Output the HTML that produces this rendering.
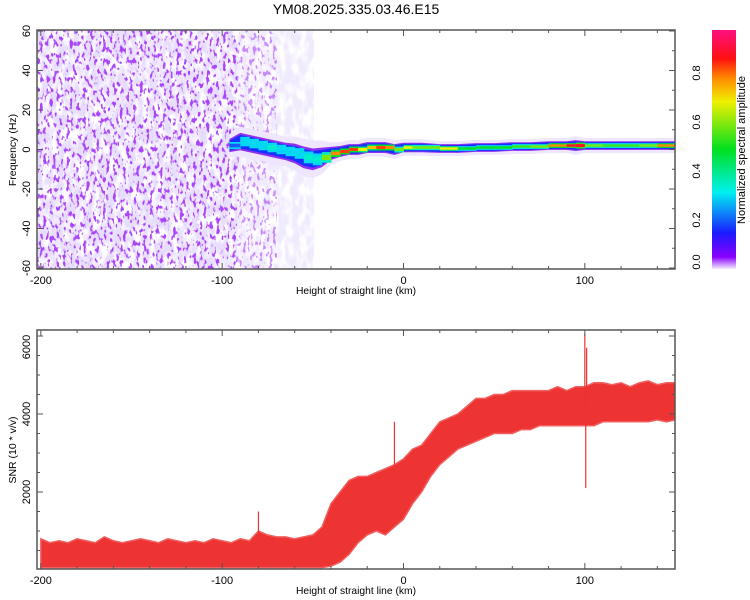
<!DOCTYPE html>
<html><head><meta charset="utf-8">
<style>
html,body{margin:0;padding:0;background:#fff;}
svg{display:block;font-family:"Liberation Sans",sans-serif;}
</style></head>
<body>
<svg id="chart" width="750" height="600" viewBox="0 0 750 600">
<defs>
  <clipPath id="topClip"><rect x="37" y="30" width="638" height="239"/></clipPath>
  <clipPath id="botClip"><rect x="37" y="330" width="638" height="239"/></clipPath>
  <filter id="noiseDark" x="0" y="0" width="1" height="1">
    <feTurbulence type="fractalNoise" baseFrequency="0.3 0.17" numOctaves="2" seed="3"/>
    <feColorMatrix type="matrix" values="0 0 0 0 0.4  0 0 0 0 0.06  0 0 0 0 0.93  9 0 0 0 -5.0"/>
  </filter>
  <filter id="noiseLight" x="0" y="0" width="1" height="1">
    <feTurbulence type="fractalNoise" baseFrequency="0.14 0.07" numOctaves="2" seed="9"/>
    <feColorMatrix type="matrix" values="0 0 0 0 0.8  0 0 0 0 0.72  0 0 0 0 0.98  0 3.5 0 0 -1.1"/>
  </filter>
  <linearGradient id="cbGrad" x1="0" y1="1" x2="0" y2="0">
    <stop offset="0" stop-color="#f4eeff"/>
    <stop offset="0.05" stop-color="#8a00ff"/>
    <stop offset="0.15" stop-color="#1a1aff"/>
    <stop offset="0.32" stop-color="#00f0f0"/>
    <stop offset="0.5" stop-color="#00e020"/>
    <stop offset="0.7" stop-color="#f0f000"/>
    <stop offset="0.8" stop-color="#ff8800"/>
    <stop offset="0.88" stop-color="#ff1010"/>
    <stop offset="1" stop-color="#ff1080"/>
  </linearGradient>
</defs>
<text x="356" y="14" font-size="14" text-anchor="middle">YM08.2025.335.03.46.E15</text>

<g id="topPlot">
  <g clip-path="url(#topClip)" id="specMarks">
    <rect x="37" y="30" width="200" height="239" filter="url(#noiseLight)"/>
    <rect x="37" y="30" width="200" height="239" filter="url(#noiseDark)"/>
    <rect x="237" y="30" width="77" height="239" filter="url(#noiseLight)" opacity="0.6"/>
    <rect x="237" y="30" width="40" height="239" filter="url(#noiseDark)" opacity="0.6"/>
  </g>
</g>
<g id="botPlot"></g>
<g id="colorbar">
  <rect x="712" y="30" width="24" height="239" fill="url(#cbGrad)"/>
  <text transform="translate(745,150) rotate(-90)" font-size="11" text-anchor="middle">Normalized spectral amplitude</text>
</g>
</svg>
<script>
// ---- spectrogram band data ----
const bandKm   = [-96,-90,-85,-80,-75,-70,-65,-60,-55,-50,-45,-40,-35,-30,-25,-20,-15,-10,-5,0,5,10,20,30,40,50,60,70,80,90,95,100,110,120,130,140,150];
const bandFreq = [2,4,3,2,1,0,-1,-2,-4,-5,-4,-2,-1,0,0,1,1,1,0,1,1,1,0.5,0.5,1,1,1.5,1.5,2,2,2,2,2,2,2,2,2];
const bandHalf = [3,4,4,4,4,4,4,4.5,5,5,4.5,3,2.5,2.5,2.5,2.5,2.5,2.5,2.5,2.2,2.2,2.2,2,2,2,2,2,2,2,2,2.5,2,2,2,2,2,2];
const bandAmp  = [0.2,0.3,0.3,0.3,0.35,0.3,0.3,0.3,0.35,0.35,0.6,0.8,0.85,0.85,0.7,0.75,0.85,0.8,0.6,0.7,0.6,0.6,0.7,0.5,0.5,0.5,0.55,0.6,0.8,0.9,0.9,0.6,0.55,0.55,0.6,0.8,0.9];
// ---- SNR data (5 km steps, -200..150) ----
const snrKm = [];
for (let k=-200;k<=150;k+=5) snrKm.push(k);
const snrHigh = [800,700,750,700,800,750,700,850,750,700,750,800,750,700,800,750,700,750,700,800,750,700,800,750,
  1000,900,850,850,800,850,900,
  1100,1700,2000,2300,2400,2400,2500,2600,2700,2850,3100,3200,3500,3800,3900,4000,4200,4400,4400,4500,4500,4600,4600,4600,4600,4600,4700,4600,4700,4700,4800,4800,4750,4800,4700,4800,4850,4750,4800,4800];
const snrLow = [60,60,60,60,60,60,60,60,60,60,60,60,60,60,60,60,60,60,60,60,60,60,60,60,
  60,60,60,60,60,60,60,
  60,100,200,400,700,900,1000,900,1100,1300,1700,2000,2400,2700,2900,3100,3200,3300,3400,3500,3500,3500,3600,3600,3700,3700,3700,3700,3700,3700,3700,3800,3800,3800,3800,3800,3800,3850,3800,3850];
const spikeKm  = [-80,-5,100,100.5,101];
const spikeVal = [1500,3800,6050,2100,5700];
const xTicks = [-200,-100,0,100];
const fTicks = [-60,-40,-20,0,20,40,60];
const snrTicks = [2000,4000,6000];
const cbTicks = [0,0.2,0.4,0.6,0.8];

const NS='http://www.w3.org/2000/svg';
const X = km => 403.5 + km*1.8133;
const YF = f => 149.5 - f*1.975;
const YS = v => 570 - v*0.039;
const YC = a => 269 - a*245;
function mk(tag, attrs, parent){const e=document.createElementNS(NS,tag);for(const k in attrs)e.setAttribute(k,attrs[k]);parent.appendChild(e);return e;}
const stops=[[0,[244,238,255]],[0.05,[138,0,255]],[0.15,[26,26,255]],[0.32,[0,240,240]],[0.5,[0,224,32]],[0.7,[240,240,0]],[0.8,[255,136,0]],[0.88,[255,16,16]],[1,[255,16,128]]];
function cmap(a){for(let i=1;i<stops.length;i++){if(a<=stops[i][0]){const t=(a-stops[i-1][0])/(stops[i][0]-stops[i-1][0]);const c=stops[i-1][1].map((v,j)=>Math.round(v+(stops[i][1][j]-v)*t));return `rgb(${c})`;}}return 'rgb(255,16,128)';}

const spec=document.getElementById('specMarks');
function bandArea(scale, color, name){
  let up='', dn='';
  for(let i=0;i<bandKm.length;i++){up+=(i?'L':'M')+X(bandKm[i])+','+YF(bandFreq[i]+bandHalf[i]*scale);}
  for(let i=bandKm.length-1;i>=0;i--){dn+='L'+X(bandKm[i])+','+YF(bandFreq[i]-bandHalf[i]*scale);}
  const p=mk('path',{d:up+dn+'Z',fill:color},spec);
  
  
}
bandArea(1.9,'#eee6fc','band-halo');
bandArea(1.1,'#9030f0','band-purple');
bandArea(0.85,'#1830ff','band-blue');
for(let i=0;i<bandKm.length-1;i++){
  const x0=X(bandKm[i]), x1=X(bandKm[i+1]);
  const h1=bandHalf[i]*0.6, h2=bandHalf[i]*0.3;
  const r1=mk('rect',{x:x0,y:YF(bandFreq[i]+h1),width:x1-x0+0.5,height:YF(-h1)-YF(h1),fill:cmap(Math.max(0.3,bandAmp[i]*0.6))},spec);
  
  
  const r2=mk('rect',{x:x0,y:YF(bandFreq[i]+h2),width:x1-x0+0.5,height:YF(-h2)-YF(h2),fill:cmap(bandAmp[i])},spec);
  
  
}

const topG=document.getElementById('topPlot');
const botG=document.getElementById('botPlot');
function frame(parent, y0, name){
  const r=mk('rect',{x:37,y:y0,width:638,height:239,fill:'none',stroke:'#555','stroke-width':1.5},parent);
  
  
  for(let k=-200;k<=150;k+=20){
    const x=X(k), L=(k%100===0)?6:3;
    mk('line',{x1:x,y1:y0,x2:x,y2:y0+L,stroke:'#555'},parent);
    mk('line',{x1:x,y1:y0+239,x2:x,y2:y0+239-L,stroke:'#555'},parent);
  }
  xTicks.forEach(k=>{
    const t=mk('text',{x:X(k),y:y0+254,'font-size':11,'text-anchor':'middle'},parent);
    t.textContent=k;
    
    
  });
  const at=mk('text',{x:356,y:y0+264,'font-size':10.5,'text-anchor':'middle',textLength:120,lengthAdjust:'spacingAndGlyphs'},parent);
  at.textContent='Height of straight line (km)';
  
  
}
frame(topG,30,'spectrogram-frame');
for(let f=-60;f<=60;f+=10){
  const y=YF(f), L=(f%20===0)?6:3;
  mk('line',{x1:37,y1:y,x2:37+L,y2:y,stroke:'#555'},topG);
  mk('line',{x1:675,y1:y,x2:675-L,y2:y,stroke:'#555'},topG);
}
fTicks.forEach(f=>{
  const t=mk('text',{transform:`translate(30,${YF(f)}) rotate(-90)`,'font-size':11,'text-anchor':'middle'},topG);
  t.textContent=f;
  
  
});
const yt1=mk('text',{transform:'translate(16,150) rotate(-90)','font-size':10.5,'text-anchor':'middle'},topG);
yt1.textContent='Frequency (Hz)';



// SNR
const g=mk('g',{'clip-path':'url(#botClip)'},botG);
let d='';
for(let i=0;i<snrKm.length;i++) d+=(i?'L':'M')+X(snrKm[i])+','+YS(snrHigh[i]);
for(let i=snrKm.length-1;i>=0;i--) d+='L'+X(snrKm[i])+','+YS(snrLow[i]);
const band=mk('path',{d:d+'Z',fill:'#ee3333',stroke:'#f06060','stroke-width':1.5},g);


spikeKm.forEach((k,i)=>{
  let j=Math.round((k+200)/5); j=Math.max(0,Math.min(snrKm.length-1,j));
  const mid=(snrLow[j]+snrHigh[j])/2;
  const s=mk('line',{x1:X(k),y1:YS(mid),x2:X(k),y2:YS(spikeVal[i]),stroke:'#ee3333','stroke-width':1.2},g);
  
  
});
frame(botG,330,'snr-frame');
for(let v=500;v<=6000;v+=500){
  const y=YS(v), L=(v%2000===0)?6:3;
  mk('line',{x1:37,y1:y,x2:37+L,y2:y,stroke:'#555'},botG);
  mk('line',{x1:675,y1:y,x2:675-L,y2:y,stroke:'#555'},botG);
}
snrTicks.forEach(v=>{
  const t=mk('text',{transform:`translate(30,${Math.max(YS(v),347)}) rotate(-90)`,'font-size':11,'text-anchor':'middle'},botG);
  t.textContent=v;
  
  
});
const yt2=mk('text',{transform:'translate(16,450) rotate(-90)','font-size':10.5,'text-anchor':'middle'},botG);
yt2.textContent='SNR (10 * v/v)';



// colorbar ticks
const cb=document.getElementById('colorbar');
cbTicks.forEach(a=>{
  const t=mk('text',{transform:`translate(700,${Math.min(YC(a),262)}) rotate(-90)`,'font-size':11,'text-anchor':'middle'},cb);
  t.textContent=a.toFixed(1);
  
  
});
</script>
</body></html>
